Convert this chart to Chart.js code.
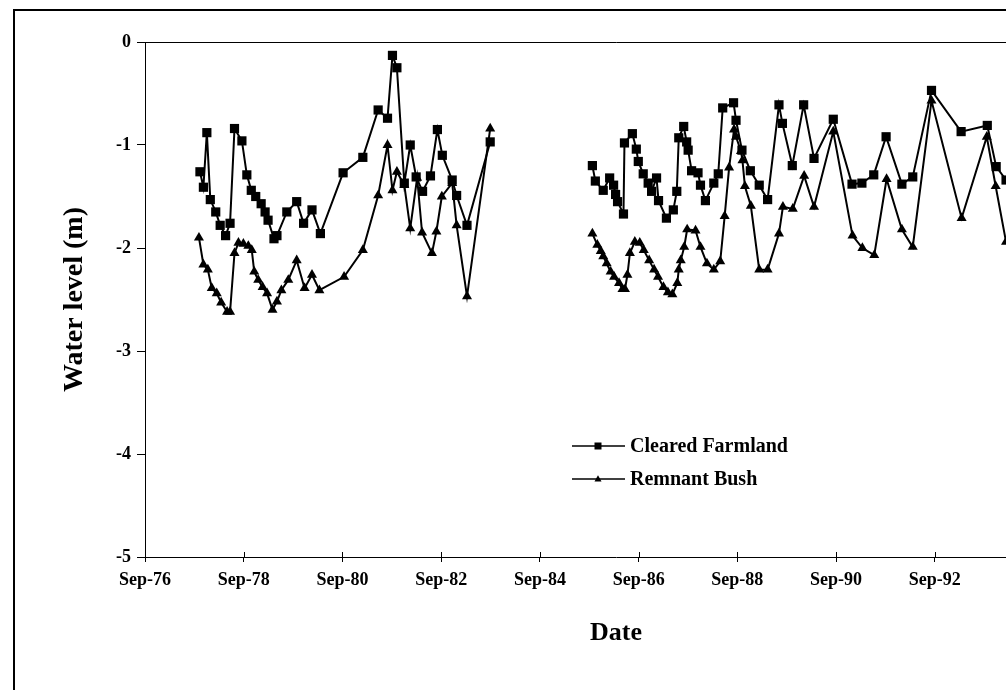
<!DOCTYPE html>
<html><head><meta charset="utf-8">
<script src="https://cdn.jsdelivr.net/npm/chart.js@4"></script>
<style>
html,body{margin:0;padding:0;background:#fff;overflow:hidden;}
#wrap{position:relative;width:1006px;height:690px;overflow:hidden;background:#fff;}
#frame{position:absolute;left:13px;top:9px;width:1200px;height:1000px;border-left:2px solid #000;border-top:2px solid #000;box-sizing:border-box;}
#c{position:absolute;left:0;top:0;}
</style></head><body>
<div id="wrap"><div id="frame"></div><canvas id="c" width="1100" height="690"></canvas></div>
<script>
// Dates as decimal years, levels in metres
const clearedDates1 = [1977.78,1977.85,1977.92,1977.99,1978.10,1978.19,1978.30,1978.39,1978.48,1978.63,1978.73,1978.82,1978.91,1979.02,1979.10,1979.16,1979.28,1979.34,1979.54,1979.74,1979.88,1980.05,1980.22,1980.68,1981.08,1981.39,1981.58,1981.68,1981.77,1981.92,1982.04,1982.16,1982.29,1982.45,1982.59,1982.69,1982.89,1982.98,1983.19,1983.66];
const clearedLevels1 = [-1.26,-1.41,-0.88,-1.53,-1.65,-1.78,-1.88,-1.76,-0.84,-0.96,-1.29,-1.44,-1.50,-1.57,-1.65,-1.73,-1.91,-1.88,-1.65,-1.55,-1.76,-1.63,-1.86,-1.27,-1.12,-0.66,-0.74,-0.13,-0.25,-1.37,-1.00,-1.31,-1.45,-1.30,-0.85,-1.10,-1.34,-1.49,-1.78,-0.97];
const clearedDates2 = [1985.73,1985.79,1985.95,1986.08,1986.16,1986.20,1986.24,1986.36,1986.38,1986.54,1986.62,1986.66,1986.76,1986.86,1986.93,1987.03,1987.07,1987.23,1987.37,1987.44,1987.48,1987.58,1987.64,1987.67,1987.74,1987.87,1987.92,1988.02,1988.19,1988.28,1988.37,1988.59,1988.64,1988.76,1988.93,1989.11,1989.28,1989.51,1989.58,1989.78,1990.01,1990.22,1990.61,1990.99,1991.19,1991.43,1991.68,1992.00,1992.22,1992.60,1993.20,1993.73,1993.91,1994.11];
const clearedLevels2 = [-1.20,-1.35,-1.44,-1.32,-1.39,-1.48,-1.55,-1.67,-0.98,-0.89,-1.04,-1.16,-1.28,-1.37,-1.45,-1.32,-1.54,-1.71,-1.63,-1.45,-0.93,-0.82,-0.97,-1.05,-1.25,-1.27,-1.39,-1.54,-1.37,-1.28,-0.64,-0.59,-0.76,-1.05,-1.25,-1.39,-1.53,-0.61,-0.79,-1.20,-0.61,-1.13,-0.75,-1.38,-1.37,-1.29,-0.92,-1.38,-1.31,-0.47,-0.87,-0.81,-1.21,-1.34];

const bushDates1 = [1977.76,1977.85,1977.94,1978.02,1978.12,1978.21,1978.33,1978.39,1978.48,1978.56,1978.66,1978.76,1978.83,1978.88,1978.96,1979.05,1979.14,1979.25,1979.34,1979.43,1979.57,1979.74,1979.90,1980.05,1980.20,1980.70,1981.08,1981.39,1981.58,1981.68,1981.77,1981.92,1982.04,1982.18,1982.28,1982.48,1982.57,1982.68,1982.89,1982.98,1983.19,1983.66];
const bushLevels1 = [-1.90,-2.16,-2.21,-2.39,-2.44,-2.53,-2.62,-2.62,-2.05,-1.95,-1.96,-1.98,-2.02,-2.23,-2.31,-2.38,-2.44,-2.60,-2.52,-2.41,-2.31,-2.12,-2.39,-2.26,-2.41,-2.28,-2.02,-1.49,-1.00,-1.44,-1.26,-1.39,-1.81,-1.32,-1.85,-2.05,-1.84,-1.50,-1.37,-1.78,-2.47,-0.84];
const bushDates2 = [1985.73,1985.83,1985.90,1985.95,1986.02,1986.10,1986.17,1986.27,1986.34,1986.39,1986.44,1986.49,1986.59,1986.69,1986.77,1986.88,1986.98,1987.06,1987.17,1987.26,1987.35,1987.45,1987.48,1987.52,1987.59,1987.65,1987.82,1987.92,1988.05,1988.19,1988.32,1988.41,1988.50,1988.60,1988.64,1988.74,1988.77,1988.82,1988.94,1989.11,1989.28,1989.51,1989.59,1989.79,1990.02,1990.22,1990.61,1991.00,1991.20,1991.44,1991.69,1992.00,1992.22,1992.60,1993.21,1993.72,1993.90,1994.11];
const bushLevels2 = [-1.86,-1.97,-2.03,-2.08,-2.15,-2.23,-2.28,-2.34,-2.40,-2.40,-2.26,-2.05,-1.94,-1.95,-2.02,-2.12,-2.21,-2.28,-2.38,-2.43,-2.45,-2.34,-2.21,-2.12,-1.99,-1.82,-1.83,-1.99,-2.15,-2.21,-2.13,-1.69,-1.22,-0.85,-0.92,-1.06,-1.15,-1.40,-1.59,-2.21,-2.21,-1.86,-1.60,-1.62,-1.30,-1.60,-0.87,-1.88,-2.00,-2.07,-1.33,-1.82,-1.99,-0.57,-1.71,-0.92,-1.40,-1.94];

const tickDates = [1976.667,1978.667,1980.667,1982.667,1984.667,1986.667,1988.667,1990.667,1992.667,1994.667];
const tickLabels = ['Sep-76','Sep-78','Sep-80','Sep-82','Sep-84','Sep-86','Sep-88','Sep-90','Sep-92','Sep-94'];
const yTicks = [0,-1,-2,-3,-4,-5];
const seriesNames = ['Cleared Farmland','Remnant Bush'];

const X_MIN = 1976.667, X_MAX = 1995.75;
const FONT = "'Liberation Serif','Times New Roman',serif";

function buildPoints(d1, l1, d2, l2){
  const pts = d1.map((d,i)=>({x:d, y:l1[i]}));
  pts.push({x:d2[0], y:null}); // break in record
  d2.forEach((d,i)=>pts.push({x:d, y:l2[i]}));
  return pts;
}

Chart.defaults.font.family = FONT;
Chart.defaults.color = '#000';

function drawMarker(ctx, style, r, x, y){
  ctx.beginPath();
  if (style === 'rect'){
    ctx.rect(x - r, y - r, 2*r, 2*r);
  } else {
    ctx.moveTo(x, y - r*1.1);
    ctx.lineTo(x + r, y + r*0.7);
    ctx.lineTo(x - r, y + r*0.7);
    ctx.closePath();
  }
  ctx.fill();
}

const framePlugin = {
  id:'frame',
  afterDraw(chart){
    const {ctx, chartArea:ca} = chart;
    ctx.save();
    ctx.strokeStyle = '#000';
    ctx.lineWidth = 1;
    ctx.beginPath();
    ctx.moveTo(ca.left, ca.top + 0.5);
    ctx.lineTo(ca.right + 0.5, ca.top + 0.5);
    ctx.lineTo(ca.right + 0.5, ca.bottom);
    ctx.stroke();
    const xs = chart.scales.x;
    xs.ticks.forEach(t=>{
      const px = Math.round(xs.getPixelForValue(t.value)) + 0.5;
      ctx.beginPath(); ctx.moveTo(px, ca.bottom - 5); ctx.lineTo(px, ca.bottom); ctx.stroke();
    });
    ctx.restore();
  }
};

const legendPlugin = {
  id:'customLegend',
  afterDraw(chart){
    const {ctx, chartArea:ca} = chart;
    const x0 = ca.left + 427, y0 = 446, gap = 33;
    chart.data.datasets.forEach((ds,i)=>{
      const y = y0 + i*gap;
      ctx.save();
      ctx.strokeStyle = '#000'; ctx.fillStyle = '#000'; ctx.lineWidth = 1.5;
      ctx.beginPath(); ctx.moveTo(x0, y); ctx.lineTo(x0 + 53, y); ctx.stroke();
      drawMarker(ctx, ds.pointStyle, 3.5, x0 + 26, y);
      ctx.font = 'bold 20px ' + FONT;
      ctx.textBaseline = 'middle';
      ctx.fillText(ds.label, x0 + 58, y + 1);
      ctx.restore();
    });
  }
};

new Chart(document.getElementById('c'), {
  type:'line',
  data:{
    datasets:[
      {label:seriesNames[0], data:buildPoints(clearedDates1, clearedLevels1, clearedDates2, clearedLevels2),
       borderColor:'#000', backgroundColor:'#000', pointBackgroundColor:'#000', pointBorderColor:'#000',
       borderWidth:2, pointStyle:'rect', pointRadius:6.5, pointBorderWidth:0, pointHoverRadius:6.5, tension:0, spanGaps:false},
      {label:seriesNames[1], data:buildPoints(bushDates1, bushLevels1, bushDates2, bushLevels2),
       borderColor:'#000', backgroundColor:'#000', pointBackgroundColor:'#000', pointBorderColor:'#000',
       borderWidth:2, pointStyle:'triangle', pointRadius:5.8, pointBorderWidth:0, pointHoverRadius:5.8, tension:0, spanGaps:false}
    ]
  },
  options:{
    responsive:false, animation:false, devicePixelRatio:1, events:[],
    layout:{padding:{left:50, top:42, right:13, bottom:41}},
    plugins:{legend:{display:false}, tooltip:{enabled:false}},
    scales:{
      x:{
        type:'linear', min:X_MIN, max:X_MAX,
        afterBuildTicks:s=>{ s.ticks = tickDates.map(v=>({value:v})); },
        afterFit:s=>{ s.height = 92; },
        ticks:{callback:(v,i)=>tickLabels[i], font:{size:18, weight:'bold'}, padding:8, maxRotation:0, autoSkip:false, color:'#000'},
        grid:{drawOnChartArea:false, drawTicks:true, tickLength:5, color:'#000'},
        border:{display:true, color:'#000', width:1},
        title:{display:true, text:'Date', font:{size:26, weight:'bold'}, padding:{top:0, bottom:0}, color:'#000'}
      },
      y:{
        min:-5, max:0,
        afterBuildTicks:s=>{ s.ticks = yTicks.map(v=>({value:v})); },
        afterFit:s=>{ s.width = 95; },
        ticks:{font:{size:18, weight:'bold'}, padding:6, color:'#000', callback:v=>String(v)},
        grid:{drawOnChartArea:false, tickLength:8, color:'#000'},
        border:{display:true, color:'#000', width:1},
        title:{display:true, text:'Water level (m)', font:{size:28, weight:'bold'}, padding:{top:8, bottom:0}, color:'#000'}
      }
    }
  },
  plugins:[framePlugin, legendPlugin]
});
</script>
</body></html>
